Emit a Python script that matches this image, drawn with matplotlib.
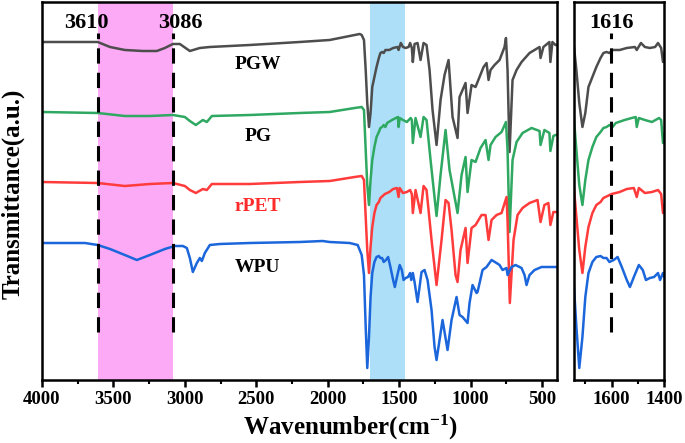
import matplotlib
matplotlib.use("Agg")
from matplotlib import pyplot as plt
from matplotlib.ticker import MultipleLocator

plt.rcParams['font.family'] = ['Liberation Serif', 'DejaVu Serif']
plt.rcParams['font.weight'] = 'bold'
plt.rcParams['mathtext.fontset'] = 'custom'
plt.rcParams['mathtext.rm'] = 'Liberation Serif:bold'
plt.rcParams['mathtext.default'] = 'rm'

# FTIR spectra (transmittance in arbitrary units)
pgw_wn = [4000, 3610, 3524, 3420, 3294, 3196, 3140, 3084, 3035, 2965, 2895, 2825, 2545, 2196,
          1986, 1846, 1776, 1762, 1746, 1734, 1723, 1711, 1700, 1688, 1673, 1658, 1642, 1631,
          1619, 1608, 1596, 1569, 1542, 1511, 1504, 1488, 1473, 1454, 1434, 1423, 1411, 1404,
          1392, 1371, 1350, 1329, 1308, 1287, 1266, 1238, 1210, 1182, 1154, 1126, 1091, 1077,
          1035, 1021, 993, 965, 937, 909, 888, 874, 860, 832, 797, 762, 752, 741, 727, 706,
          678, 643, 587, 517, 510, 490, 448, 441, 427, 406, 400]
pgw_t = [338, 338, 333, 330, 329, 329, 332, 336, 336, 329, 332, 333, 335, 338,
         340, 344, 346, 345, 340, 310, 277, 253, 267, 293, 303, 313, 322, 327,
         328, 327, 330, 330, 332, 333, 330, 337, 333, 332, 333, 337, 332, 318,
         336, 337, 320, 337, 335, 310, 270, 235, 280, 305, 320, 263, 242, 283,
         297, 267, 295, 293, 303, 313, 317, 300, 310, 315, 320, 333, 342, 310, 228, 300,
         310, 318, 327, 333, 322, 333, 338, 318, 338, 335, 335]

pg_wn = [4000, 3610, 3420, 3245, 3084, 3000, 2965, 2923, 2874, 2846, 2811, 2545, 2196, 1986,
         1811, 1762, 1746, 1734, 1723, 1711, 1700, 1688, 1673, 1658, 1642, 1631, 1619, 1608,
         1596, 1584, 1550, 1523, 1508, 1504, 1496, 1473, 1446, 1419, 1411, 1404, 1385, 1350,
         1329, 1308, 1280, 1238, 1210, 1175, 1147, 1091, 1063, 1035, 1021, 993, 965, 930,
         895, 874, 860, 825, 783, 752, 741, 727, 706, 678, 636, 573, 517, 510, 483, 448,
         441, 420, 406, 400]
pg_t = [268, 267, 264, 264, 265, 263, 259, 255, 260, 258, 264, 265, 267, 268,
        272, 273, 270, 230, 195, 175, 200, 220, 233, 243, 248, 252, 253, 255,
        253, 257, 260, 262, 263, 253, 262, 260, 258, 262, 260, 237, 262, 243,
        263, 260, 220, 164, 205, 250, 210, 167, 205, 223, 188, 220, 218, 232,
        240, 220, 235, 243, 248, 258, 230, 148, 220, 238, 247, 252, 249, 235, 250, 247,
        229, 244, 245, 245]

rpet_wn = [4000, 3610, 3420, 3245, 3084, 3000, 2965, 2923, 2874, 2846, 2811, 2545, 2196, 1986,
           1811, 1762, 1746, 1734, 1723, 1711, 1700, 1688, 1673, 1658, 1642, 1631, 1615, 1600,
           1584, 1569, 1542, 1515, 1504, 1496, 1473, 1446, 1423, 1411, 1404, 1385, 1350, 1329,
           1308, 1273, 1238, 1203, 1175, 1154, 1133, 1105, 1091, 1070, 1035, 1021, 993, 965,
           923, 895, 874, 853, 818, 783, 748, 741, 725, 699, 671, 636, 587, 531, 510, 483,
           455, 441, 420, 406, 400]
rpet_t = [198, 197, 194, 196, 197, 194, 190, 187, 191, 190, 196, 196, 198, 199,
          203, 204, 200, 163, 130, 107, 133, 153, 167, 175, 178, 182, 184, 186,
          187, 188, 191, 192, 183, 192, 187, 188, 190, 186, 167, 190, 167, 194,
          190, 140, 95, 140, 180, 177, 150, 105, 98, 130, 152, 117, 152, 155,
          165, 165, 140, 160, 165, 167, 183, 160, 77, 140, 165, 172, 177, 180, 158, 175,
          177, 155, 168, 168, 168]

wpu_wn = [4000, 3699, 3610, 3524, 3420, 3336, 3245, 3140, 3070, 3014, 2986, 2965, 2944, 2916,
          2895, 2881, 2860, 2825, 2755, 2545, 2196, 2035, 1986, 1846, 1790, 1762, 1746, 1734,
          1723, 1711, 1700, 1688, 1673, 1658, 1642, 1631, 1619, 1608, 1592, 1577, 1561, 1542,
          1530, 1515, 1496, 1481, 1469, 1454, 1438, 1423, 1415, 1404, 1392, 1371, 1343, 1322,
          1301, 1273, 1252, 1238, 1217, 1196, 1161, 1133, 1098, 1077, 1056, 1021, 1007, 986,
          958, 951, 916, 888, 853, 818, 797, 776, 748, 741, 713, 685, 643, 622, 608, 587,
          552, 503, 462, 413, 400]
wpu_t = [137, 137, 135, 131, 125, 120, 125, 131, 134, 134, 132, 122, 108, 117,
         122, 119, 127, 135, 136, 137, 138, 139, 138, 137, 135, 125, 105, 53,
         12, 43, 83, 107, 118, 123, 124, 122, 122, 118, 120, 123, 113, 100,
         93, 103, 115, 110, 100, 102, 103, 107, 100, 107, 98, 78, 108, 110,
         100, 70, 33, 20, 40, 60, 30, 60, 83, 65, 63, 57, 77, 95,
         87, 88, 110, 113, 120, 117, 115, 110, 112, 105, 113, 115, 112, 105, 95, 105,
         110, 113, 113, 113, 113]

series = [("PGW", pgw_wn, pgw_t, "#4d4d4d"),
          ("PG", pg_wn, pg_t, "#2fa862"),
          ("rPET", rpet_wn, rpet_t, "#ff3b3b"),
          ("WPU", wpu_wn, wpu_t, "#1c66dc")]

label_y = {"PGW": 315, "PG": 243, "rPET": 173, "WPU": 113}
label_color = {"PGW": "black", "PG": "black", "rPET": "#ff2a2a", "WPU": "black"}

fig = plt.figure(figsize=(6.85, 4.43), dpi=100)
ax = fig.add_axes([0.0613, 0.1422, 0.7518, 0.8533])
ax2 = fig.add_axes([0.838, 0.1422, 0.1314, 0.8533])

for a in (ax, ax2):
    for name, wn, t, c in series:
        a.plot(wn, t, color=c, lw=1.8)
    a.set_ylim(0, 378)
    a.set_yticks([])
    for s in a.spines.values():
        s.set_linewidth(1.8)
    a.tick_params(axis='x', which='major', direction='out', length=5, width=1.8,
                  labelsize=13.5, pad=3)
    a.tick_params(axis='x', which='minor', direction='out', length=3, width=1.5)

# main panel
ax.axvspan(3610, 3086, color="#fcaaf6", lw=0, zorder=0)
ax.axvspan(1702, 1462, color="#ade0f8", lw=0, zorder=0)
ax.vlines([3610, 3086], 48, 347, colors="black", linestyles=(0, (5, 3)), lw=2.2)
ax.set_xlim(4000, 395)
ax.xaxis.set_major_locator(MultipleLocator(500))
ax.xaxis.set_minor_locator(MultipleLocator(250))
ax.text(3692, 357, "3610", ha="center", va="center", fontsize=16, fontweight="bold")
ax.text(3028, 357, "3086", ha="center", va="center", fontsize=16, fontweight="bold")
for name, wn, t, c in series:
    ax.text(2489, label_y[name], name, ha="center", va="center", fontsize=14,
            fontweight="bold", color=label_color[name])

# axis titles placed on the figure
fig.text(0.019, 0.562, "Transmittance(a.u.)", rotation=90, ha="center", va="center",
         fontsize=18, fontweight="bold")
fig.text(0.511, 0.035, "Wavenumber(cm$^{-1}$)", ha="center", va="center",
         fontsize=18, fontweight="bold")

# zoomed panel
ax2.vlines([1602], 48, 347, colors="black", linestyles=(0, (5, 3)), lw=2.2)
ax2.set_xlim(1743, 1400)
ax2.set_xticks([1600, 1400])
ax2.xaxis.set_minor_locator(MultipleLocator(100))
ax2.text(1601, 357, "1616", ha="center", va="center", fontsize=16, fontweight="bold")

fig.savefig("out.png", dpi=100)
